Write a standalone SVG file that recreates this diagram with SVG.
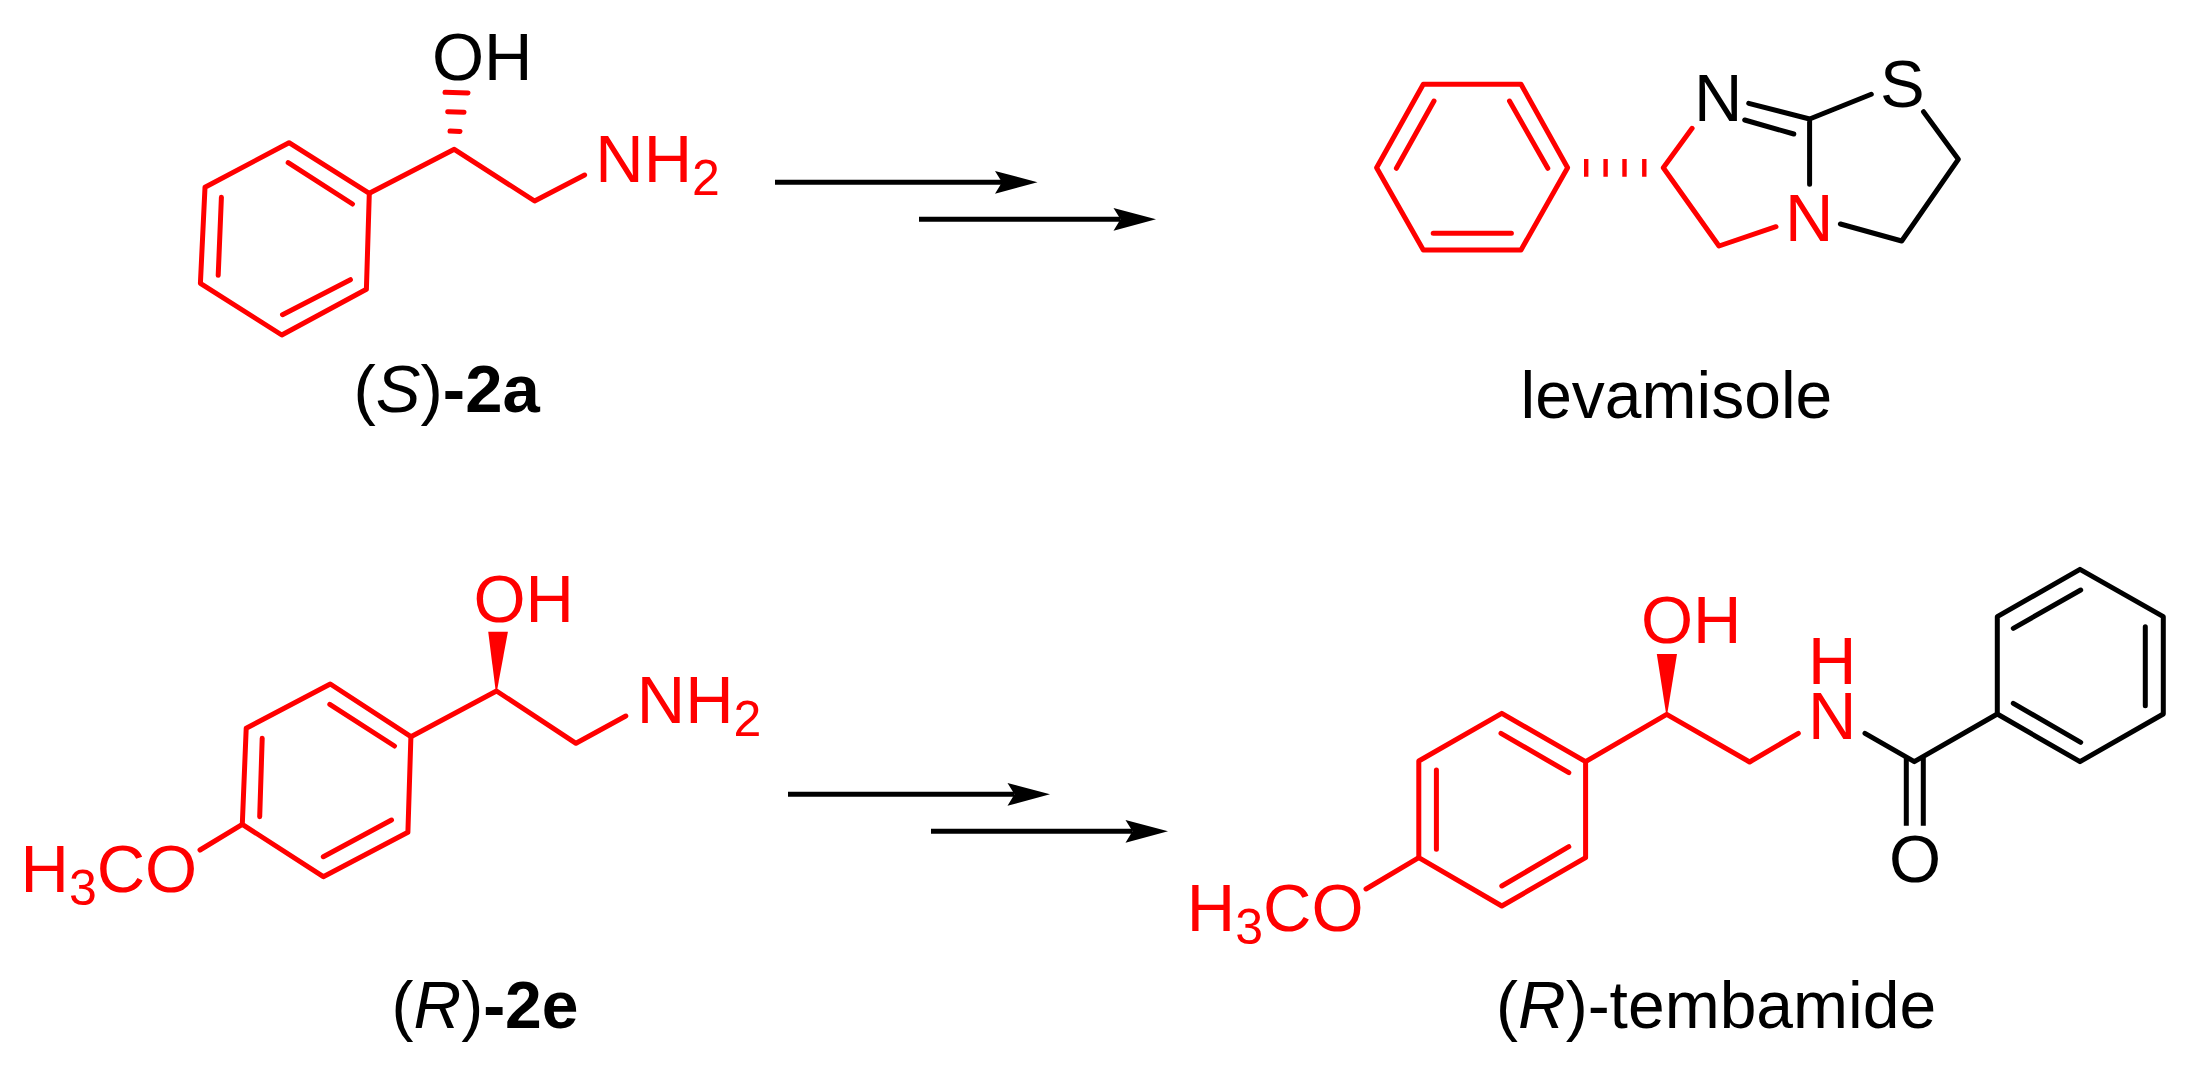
<svg xmlns="http://www.w3.org/2000/svg" width="2197" height="1073" viewBox="0 0 2197 1073">
<style>
text{font-family:"Liberation Sans",Arial,sans-serif;font-size:67px;fill:#000}
.r{fill:#f00}
.b{font-weight:bold}
.i{font-style:italic}
.rb{fill:none;stroke:#f00;stroke-width:5;stroke-linecap:round;stroke-linejoin:round}
.kb{fill:none;stroke:#000;stroke-width:5;stroke-linecap:round;stroke-linejoin:round}
.arr{stroke:#000;stroke-width:5;fill:none;marker-end:url(#head)}
</style>
<defs>
<marker id="head" markerUnits="userSpaceOnUse" markerWidth="60" markerHeight="30" refX="7" refY="15" orient="auto" overflow="visible"><path d="M0 3.6L42.5 15L0 26.4L7 15Z" fill="#000"/></marker>
</defs>
<rect width="2197" height="1073" fill="#fff"/>
<g id="connectors">
<line class="arr" x1="775" y1="182.3" x2="1002" y2="182.3"/>
<line class="arr" x1="919" y1="219.3" x2="1120.5" y2="219.3"/>
<line class="arr" x1="788" y1="794.3" x2="1014.5" y2="794.3"/>
<line class="arr" x1="931" y1="831.3" x2="1132.5" y2="831.3"/>
</g>
<g id="node-s-2a">
<path class="rb" d="M289 142.7L369.3 193.3L366.4 289.3L281.8 335L200.4 283.3L205 187.3Z"/>
<path class="rb" d="M288.2 162.7L352.5 204M221.4 197.3L218.2 275.3M350.4 279.7L282.5 314.7M369.3 193.3L454.3 149.3L534.6 201L584.6 175"/>
<path class="rb" d="M445 92.3L468 93M447.7 111.7L464 112.3M450 131L460 131.5"/>
<text x="432" y="80">OH</text>
<text class="r" x="595.3" y="181.7">NH<tspan font-size="50" dy="13">2</tspan></text>
<text x="353.5" y="412">(<tspan class="i">S</tspan>)<tspan class="b">-2a</tspan></text>
</g>
<g id="node-levamisole">
<path class="rb" d="M1423.3 84.3L1521 84.3L1567.6 167.7L1521 250L1423.3 250L1376.6 167.7Z"/>
<path class="rb" d="M1434 101L1396.4 168.3M1509.5 101L1547.8 168.3M1433.2 233.3L1511.4 233.3M1692.1 128.3L1663.3 167.7L1719 246L1776 226.7"/>
<path d="M1586.2 159V176.7M1605.6 159V176.7M1624.5 159V176.7M1644.3 159V176.7" stroke="#f00" stroke-width="4.4" fill="none"/>
<path class="kb" d="M1748.7 103.3L1809.6 119M1744.7 120L1793.8 134M1809.6 119V184.3M1809.6 119L1871.3 94.3M1923.5 111.7L1958.3 159.3L1901.7 241L1840.4 224"/>
<text x="1694" y="120.7">N</text>
<text x="1880" y="107">S</text>
<text class="r" x="1785" y="240.7">N</text>
<text x="1520.5" y="418.3" style="font-size:66px">levamisole</text>
</g>
<g id="node-r-2e">
<path class="rb" d="M330.3 684L410.9 736.7L407.9 832.3L323.3 876.7L242.3 824.3L246.2 728.3Z"/>
<path class="rb" d="M329.8 704.3L394.5 746M262.2 738.3L259.7 816.7M391.5 820L323.3 856.7M410.9 736.7L496.5 691L576 743.3L625.8 716M242.3 824.3L200 850"/>
<path d="M488.2 631.7L507.9 631.7L496.8 691.7L495.8 691.7Z" fill="#f00"/>
<text class="r" x="473.5" y="621.5">OH</text>
<text class="r" x="636.8" y="723">NH<tspan font-size="50" dy="13">2</tspan></text>
<text class="r" x="20.5" y="891.7">H<tspan font-size="50" dy="13">3</tspan><tspan dy="-13">CO</tspan></text>
<text x="391.5" y="1028" style="font-size:66px">(<tspan class="i">R</tspan>)<tspan class="b">-2e</tspan></text>
</g>
<g id="node-r-tembamide">
<path class="rb" d="M1501.8 713.3L1585.6 761.7V857.7L1501.8 906L1418.8 857.7V761Z"/>
<path class="rb" d="M1501 733.3L1568.8 772.7M1436.4 770V849.3M1568.8 846.7L1501.8 886M1585.6 761.7L1666.7 714.3L1749.6 762L1798.3 733.3M1418.8 857.7L1366 889"/>
<path d="M1656.8 654L1677 654L1667.2 714.3L1666.2 714.3Z" fill="#f00"/>
<path class="kb" d="M1865 733.3L1914.3 761.7L1997.3 714L2080 761.7L2163.3 714V616.7L2080 569.3L1997.3 616.7V714M2013.3 628.3L2080.7 590M2145.3 626.7V705.7M2080.7 742.3L2013.3 703.3"/>
<path d="M1906.3 758V825.7M1923.3 758V825.7" stroke="#000" stroke-width="5" fill="none"/>
<text class="r" x="1641" y="643.3">OH</text>
<text class="r" x="1808" y="684">H<tspan x="1808" y="739">N</tspan></text>
<text x="1889" y="882">O</text>
<text class="r" x="1186.8" y="930.7">H<tspan font-size="50" dy="13">3</tspan><tspan dy="-13">CO</tspan></text>
<text x="1496" y="1028.3" style="font-size:66px">(<tspan class="i">R</tspan>)-tembamide</text>
</g>
</svg>
